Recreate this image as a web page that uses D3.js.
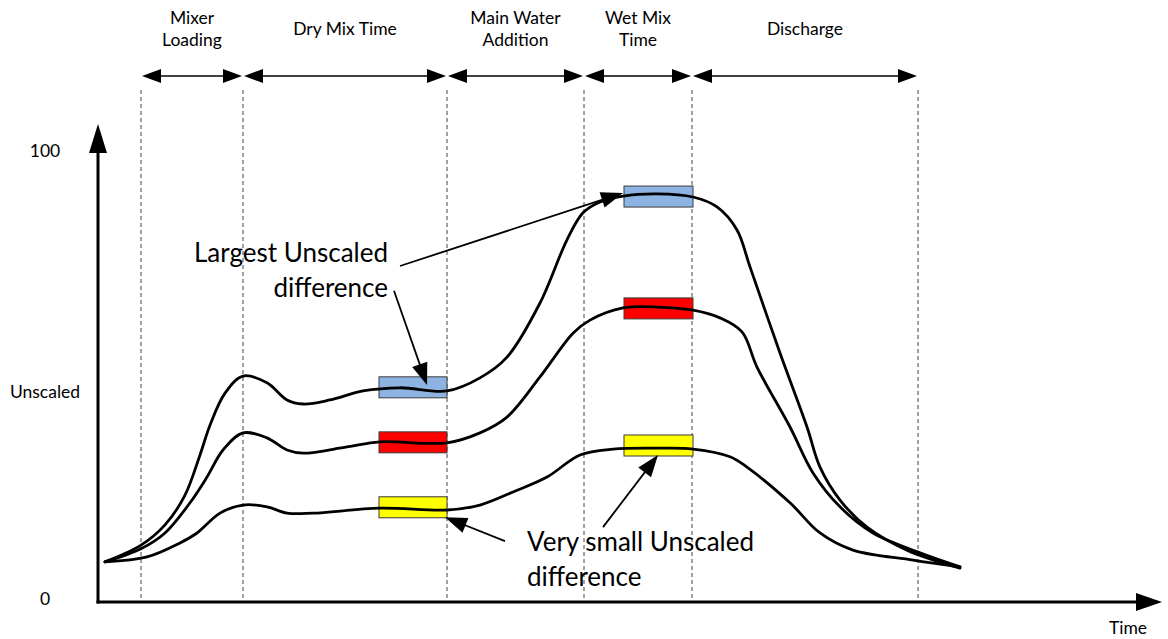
<!DOCTYPE html>
<html>
<head>
<meta charset="utf-8">
<script src="https://cdn.jsdelivr.net/npm/d3@7"></script>
<style>
  html, body { margin: 0; padding: 0; background: #ffffff; }
  svg { display: block; }
  text { font-family: Lato, "Open Sans", sans-serif; fill: #000; }
</style>
</head>
<body>
<svg id="chart" width="1168" height="639"></svg>
<script>
// ---------------- DATA ----------------
const phaseBounds = [43, 145, 349, 486, 594, 820];
const phaseLabels = [["Mixer", "Loading"], ["Dry Mix Time"], ["Main Water", "Addition"], ["Wet Mix", "Time"], ["Discharge"]];

const yTickValues = [0, 46.5, 100];
const yTickLabels = ["0", "Unscaled", "100"];
const xAxisLabel = "Time";

const highTimes  = [7, 43, 67, 87, 102, 112, 127, 145, 169, 189, 205, 232, 265, 302, 349, 382, 409, 442, 469, 485, 502, 525, 559, 595, 619, 639, 652, 682, 709, 722, 742, 769, 809, 862];
const highValues = [8.9, 12.6, 17.1, 23.7, 32.6, 39.2, 46.3, 50.1, 48.6, 44.8, 43.9, 44.8, 46.8, 47.5, 46.8, 49.7, 54.3, 66.3, 80.3, 86.3, 88.7, 90.0, 90.5, 89.8, 87.6, 82.5, 74.3, 55.2, 38.8, 29.9, 22.6, 16.6, 11.5, 7.5];

const midTimes  = [7, 43, 67, 92, 109, 125, 145, 169, 189, 205, 249, 282, 349, 382, 409, 442, 475, 492, 525, 559, 595, 622, 644, 659, 692, 715, 742, 775, 822, 862];
const midValues = [8.9, 11.8, 15.3, 22.0, 27.7, 33.7, 37.5, 36.4, 33.7, 33.0, 34.4, 35.5, 35.3, 37.5, 41.0, 49.9, 59.6, 62.5, 65.2, 65.4, 64.7, 63.0, 59.9, 52.1, 38.8, 28.6, 21.1, 15.3, 10.9, 7.8];

const lowTimes  = [7, 49, 82, 99, 122, 145, 169, 189, 215, 282, 349, 382, 415, 449, 482, 515, 565, 595, 632, 649, 692, 722, 755, 815, 862];
const lowValues = [8.9, 10.0, 13.1, 15.3, 19.7, 21.5, 21.1, 19.7, 19.7, 20.8, 20.4, 21.5, 24.4, 27.7, 32.6, 33.9, 34.1, 33.9, 32.2, 29.9, 22.0, 15.3, 11.5, 9.3, 7.8];

// sampling windows (boxes) and the level of each series inside them
const windowStarts = [281, 526];
const windowEnds   = [349, 595];
const highBoxLevels = [47.6, 89.9];
const midBoxLevels  = [35.4, 65.1];
const lowBoxLevels  = [21.0, 34.7];
const boxColors = ["#8db3e2", "#ff0000", "#ffff00"];

// annotations: text anchor and arrows (time, value)
const noteLargestText = ["Largest Unscaled", "difference"];
const noteLargestAnchor = [290, 77.4];
const noteLargestArrows = [[302, 74.5, 525, 90.7], [296, 69.0, 329, 48.1]];
const noteSmallText = ["Very small Unscaled", "difference"];
const noteSmallAnchor = [429, 13.3];
const noteSmallArrows = [[407, 13.5, 347, 18.8], [505, 16.6, 560, 32.6]];

// ---------------- CHART ----------------
const svg = d3.select("#chart");
const x = d3.scaleLinear().domain([0, 1064]).range([98, 1162]);
const y = d3.scaleLinear().domain([0, 100]).range([602, 151]);

function arrowHead(g, x1, y1, x2, y2, len, half) {
  const dx = x2 - x1, dy = y2 - y1, L = Math.hypot(dx, dy);
  const ux = dx / L, uy = dy / L, px = -uy, py = ux;
  const bx = x2 - ux * len, by = y2 - uy * len;
  g.append("polygon")
    .attr("points", [[x2, y2], [bx + px * half, by + py * half], [bx - px * half, by - py * half]].map(p => p.join(",")).join(" "))
    .attr("fill", "#000");
}

// dashed phase boundaries
svg.append("g").selectAll("line").data(phaseBounds).join("line")
  .attr("x1", d => x(d)).attr("x2", d => x(d))
  .attr("y1", 90).attr("y2", y(0))
  .attr("stroke", "#444").attr("stroke-width", 1)
  .attr("stroke-dasharray", "4,3");

// phase arrows + labels
const phases = d3.range(phaseBounds.length - 1).map(i => ({ a: phaseBounds[i], b: phaseBounds[i + 1], label: phaseLabels[i] }));
const pg = svg.append("g");
phases.forEach(p => {
  const xa = x(p.a) + 1, xb = x(p.b) - 1, yy = 76;
  pg.append("line").attr("x1", xa + 8).attr("x2", xb - 8).attr("y1", yy).attr("y2", yy)
    .attr("stroke", "#000").attr("stroke-width", 1.3);
  arrowHead(pg, xb - 30, yy, xb, yy, 19, 7);
  arrowHead(pg, xa + 30, yy, xa, yy, 19, 7);
  const cx = (x(p.a) + x(p.b)) / 2;
  const centers = p.label.length === 2 ? [18, 40] : [29];
  p.label.forEach((t, i) => {
    pg.append("text").attr("x", cx).attr("y", centers[i]).attr("dy", "0.35em")
      .attr("text-anchor", "middle").attr("font-size", 17.5).text(t);
  });
});

// boxes
const boxLevels = [highBoxLevels, midBoxLevels, lowBoxLevels];
const boxData = [];
boxLevels.forEach((levels, s) => levels.forEach((lv, w) => boxData.push({ s, lv, t0: windowStarts[w], t1: windowEnds[w] })));
svg.append("g").selectAll("rect").data(boxData).join("rect")
  .attr("x", d => x(d.t0)).attr("width", d => x(d.t1) - x(d.t0))
  .attr("y", d => y(d.lv) - 10.5).attr("height", 21)
  .attr("fill", d => boxColors[d.s]).attr("stroke", "#3a3a3a").attr("stroke-width", 1);

// curves
const series = [[highTimes, highValues], [midTimes, midValues], [lowTimes, lowValues]]
  .map(([ts, vs]) => ts.map((t, i) => [t, vs[i]]));
const line = d3.line().x(d => x(d[0])).y(d => y(d[1])).curve(d3.curveCatmullRom.alpha(0.5));
svg.append("g").selectAll("path").data(series).join("path")
  .attr("d", line).attr("fill", "none").attr("stroke", "#000").attr("stroke-width", 2.8)
  .attr("stroke-linecap", "round");

// axes
const ag = svg.append("g");
ag.append("line").attr("x1", x(0)).attr("x2", x(0)).attr("y1", y(0) + 1.5).attr("y2", 140)
  .attr("stroke", "#000").attr("stroke-width", 3);
arrowHead(ag, x(0), 300, x(0), 124, 29, 9);
ag.append("line").attr("x1", x(0) - 1.5).attr("x2", 1140).attr("y1", y(0)).attr("y2", y(0))
  .attr("stroke", "#000").attr("stroke-width", 3);
arrowHead(ag, 900, y(0), x(1064), y(0), 26, 9);

const yAxis = d3.axisLeft(y).tickValues(yTickValues).tickFormat((d, i) => yTickLabels[i]).tickSize(0);
const yg = svg.append("g").attr("transform", "translate(45,0)").call(yAxis);
yg.select(".domain").remove();
yg.selectAll("text").attr("x", 0).attr("text-anchor", "middle")
  .attr("font-size", 17.5).attr("font-family", "Lato, 'Open Sans', sans-serif").attr("fill", "#000");
yg.selectAll(".tick").filter(d => d === 0).select("text").attr("y", -3);

svg.append("text").attr("x", 1128).attr("y", 628).attr("dy", "0.35em")
  .attr("text-anchor", "middle").attr("font-size", 17.5).text(xAxisLabel);

// annotations
const ng = svg.append("g");
function note(lines, anchor, arrows, align) {
  lines.forEach((t, i) => {
    ng.append("text").attr("x", x(anchor[0])).attr("y", y(anchor[1]) + i * 35).attr("dy", "0.35em")
      .attr("text-anchor", align).attr("font-size", 26).text(t);
  });
  arrows.forEach(a => {
    const x1 = x(a[0]), y1 = y(a[1]), x2 = x(a[2]), y2 = y(a[3]);
    const L = Math.hypot(x2 - x1, y2 - y1);
    const ex = x2 - (x2 - x1) / L * 15, ey = y2 - (y2 - y1) / L * 15;
    ng.append("line").attr("x1", x1).attr("y1", y1).attr("x2", ex).attr("y2", ey)
      .attr("stroke", "#000").attr("stroke-width", 1.8);
    arrowHead(ng, x1, y1, x2, y2, 22, 8);
  });
}
note(noteLargestText, noteLargestAnchor, noteLargestArrows, "end");
note(noteSmallText, noteSmallAnchor, noteSmallArrows, "start");
</script>
</body>
</html>
